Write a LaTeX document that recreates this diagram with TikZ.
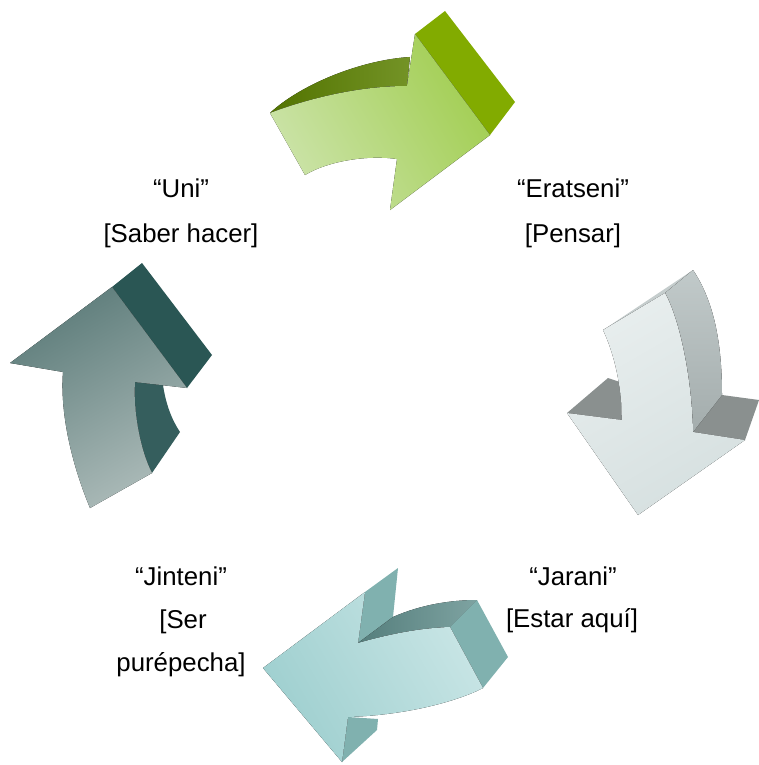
\documentclass[tikz,border=0pt]{standalone}
\usepackage{fontspec}
\setmainfont{Liberation Sans}
\usepackage{tikz}

\definecolor{grnlight}{HTML}{CBE3A8}
\definecolor{grnmid}{HTML}{A2CE52}
\definecolor{grndark}{HTML}{5B8000}
\definecolor{grnhead}{HTML}{82AB00}
\definecolor{grylight}{HTML}{E8EEEE}
\definecolor{grymid}{HTML}{D6E0E0}
\definecolor{gryside}{HTML}{B6C0C0}
\definecolor{grydark}{HTML}{8A908F}
\definecolor{tqlight}{HTML}{C8E5E5}
\definecolor{tqmid}{HTML}{9ECFCF}
\definecolor{tqinner}{HTML}{5E8C8A}
\definecolor{tqend}{HTML}{80B1AF}
\definecolor{pnlight}{HTML}{ABBAB8}
\definecolor{pnmid}{HTML}{5E7D7B}
\definecolor{pndark}{HTML}{2A5654}

\tikzset{
  lbl/.style={anchor=base, font=\fontsize{12.9}{22}\selectfont, inner sep=0pt},
  face/.style={draw=none}
}

\begin{document}
\begin{tikzpicture}[x=0.5pt, y=-0.5pt]
\useasboundingbox (0,0) rectangle (759,765);

% green arrow (top)
\fill[face, left color=grndark!90!black, right color=grndark!85!white]
  (270,113) .. controls (300,85) and (360,60) .. (410,57) -- (407,86)
  .. controls (360,86) and (310,98) .. (270,113) -- cycle;
\fill[face, grnhead] (415,34) -- (445,11) -- (515,102) -- (490,135) -- cycle;
\fill[face, top color=grnmid, bottom color=grnlight, shading angle=-60]
  (270,113) .. controls (310,98) and (360,86) .. (407,86) -- (415,34)
  -- (490,135) -- (390,210) -- (397,159)
  .. controls (370,155) and (330,160) .. (305,175) -- cycle;

% grey arrow (right)
\fill[face, grydark] (567,413) -- (608,378) -- (620,382) -- (622,420) -- cycle;
\fill[face, grydark] (693,432) -- (722,395) -- (759,400) -- (745,440) -- cycle;
\fill[face, gryside!80!white] (603,330) -- (665,293) -- (693,270) -- cycle;
\fill[face, top color=gryside!85!white, bottom color=gryside!90!black]
  (665,293) -- (693,270) .. controls (713,300) and (722,340) .. (722,395)
  -- (693,432) .. controls (692,380) and (680,320) .. (665,293) -- cycle;
\fill[face, top color=grylight, bottom color=grymid, shading angle=30]
  (603,330) -- (665,293) .. controls (680,320) and (692,380) .. (693,432)
  -- (745,440) -- (638,515) -- (567,413) -- (622,420)
  .. controls (622,390) and (615,355) .. (603,330) -- cycle;

% turquoise arrow (bottom)
\fill[face, tqend] (365,592) -- (398,568) -- (393,617) -- (358,643) -- cycle;
\fill[face, tqend] (348,717) -- (378,719) -- (377,730) -- (342,762) -- cycle;
\fill[face, left color=tqinner!90!black, right color=tqinner!80!white]
  (358,643) -- (393,617) .. controls (420,605) and (450,600) .. (477,600)
  -- (450,627) .. controls (420,628) and (390,634) .. (358,643) -- cycle;
\fill[face, tqend] (450,627) -- (477,600) -- (508,657) -- (483,688) -- cycle;
\fill[face, top color=tqlight, bottom color=tqmid, shading angle=-60]
  (263,668) -- (365,592) -- (358,643)
  .. controls (390,634) and (420,628) .. (450,627) -- (483,688)
  .. controls (460,700) and (410,715) .. (348,717) -- (342,762) -- cycle;

% dark arrow (left)
\fill[face, pndark] (112,287) -- (142,263) -- (212,355) -- (187,388) -- cycle;
\fill[face, pndark!95!white] (135,382) -- (163,385)
  .. controls (166,405) and (172,420) .. (180,432) -- (152,473)
  .. controls (140,450) and (133,410) .. (135,382) -- cycle;
\fill[face, top color=pnmid, bottom color=pnlight, shading angle=30]
  (10,363) -- (112,287) -- (187,388) -- (135,382)
  .. controls (133,410) and (140,450) .. (152,473) -- (90,508)
  .. controls (70,460) and (60,410) .. (63,372) -- cycle;

% labels
\node[lbl] (uni) at (181,197) {“Uni”};
\node[lbl] (unisub) at (181,242) {[Saber hacer]};
\node[lbl] (era) at (573,197) {“Eratseni”};
\node[lbl] (erasub) at (573,242) {[Pensar]};
\node[lbl] (jar) at (573,585) {“Jarani”};
\node[lbl] (jarsub) at (572,627) {[Estar aquí]};
\node[lbl] (jin) at (181,585) {“Jinteni”};
\node[lbl] (jinsub) at (183,628) {[Ser};
\node[lbl] (jinsubb) at (181,671) {purépecha]};
\end{tikzpicture}
\end{document}
